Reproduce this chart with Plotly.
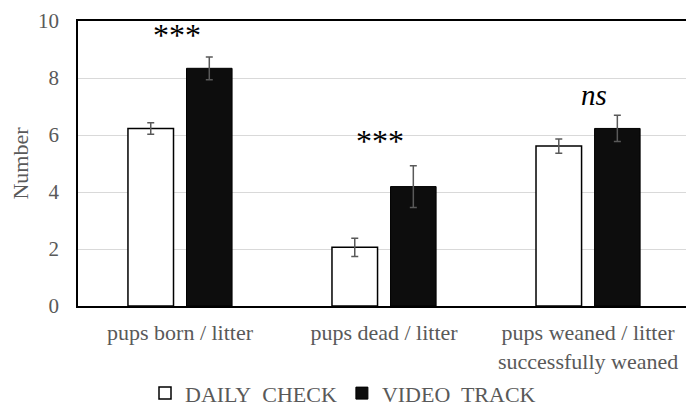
import plotly.graph_objects as go

categories = ["pups born / litter", "pups dead / litter", "pups weaned / litter<br>successfully weaned"]
series_names = ["DAILY\u00a0 CHECK", "VIDEO\u00a0 TRACK"]
daily_values = [6.23, 2.06, 5.61]
daily_errors = [0.20, 0.32, 0.25]
video_values = [8.34, 4.19, 6.23]
video_errors = [0.40, 0.73, 0.46]
sig_labels = ["***", "***", "<i>ns</i>"]
sig_y = [9.5, 5.8, 7.42]
sig_shift = [-3, -4, 6]
y_ticks = [0, 2, 4, 6, 8, 10]

FONT = "Liberation Serif"
GRAY = "#595959"

fig = go.Figure()
fig.add_trace(go.Bar(
    x=categories, y=daily_values, name=series_names[0],
    marker=dict(color="white", line=dict(color="black", width=1.5)),
    error_y=dict(type="data", array=daily_errors, color=GRAY, thickness=1.5, width=3.5),
))
fig.add_trace(go.Bar(
    x=categories, y=video_values, name=series_names[1],
    marker=dict(color="#0d0d0d", line=dict(color="black", width=1)),
    error_y=dict(type="data", array=video_errors, color=GRAY, thickness=1.5, width=3.5),
))

for cat, lab, yy, sh in zip(categories, sig_labels, sig_y, sig_shift):
    fig.add_annotation(x=cat, y=yy, text=lab, showarrow=False, xshift=sh,
                       yanchor="middle",
                       font=dict(family=FONT, size=32 if lab == "***" else 29, color="black"))

fig.update_layout(
    width=686, height=408,
    margin=dict(l=78, r=0, t=21, b=102, autoexpand=False),
    paper_bgcolor="white", plot_bgcolor="white",
    barmode="group", bargap=0.426, bargroupgap=0.222,
    font=dict(family=FONT, size=22, color=GRAY),
    showlegend=True,
    legend=dict(orientation="h", xref="container", yref="container",
                x=0.5, xanchor="center", y=0.036, yanchor="middle",
                font=dict(family=FONT, size=22, color=GRAY),
                itemwidth=30, traceorder="normal"),
)
fig.update_xaxes(
    type="category", range=[-0.5, 2.48], automargin=False,
    showline=True, linecolor="black", linewidth=1.5, mirror=True,
    showgrid=False, ticks="outside", ticklen=6, tickcolor="rgba(0,0,0,0)",
    tickfont=dict(family=FONT, size=22, color=GRAY),
)
fig.update_yaxes(
    range=[0, 10], tickvals=y_ticks, automargin=False,
    showline=True, linecolor="black", linewidth=1.5,
    showgrid=True, gridcolor="#d9d9d9", gridwidth=1,
    zeroline=False,
    ticks="outside", ticklen=13, tickcolor="rgba(0,0,0,0)",
    tickfont=dict(family=FONT, size=21, color=GRAY),
    title=dict(text="Number", standoff=3, font=dict(family=FONT, size=22, color=GRAY)),
)

fig.write_html("out.html", config={"displayModeBar": False},
               post_script="document.body.style.margin='0';document.body.style.overflow='hidden';")
